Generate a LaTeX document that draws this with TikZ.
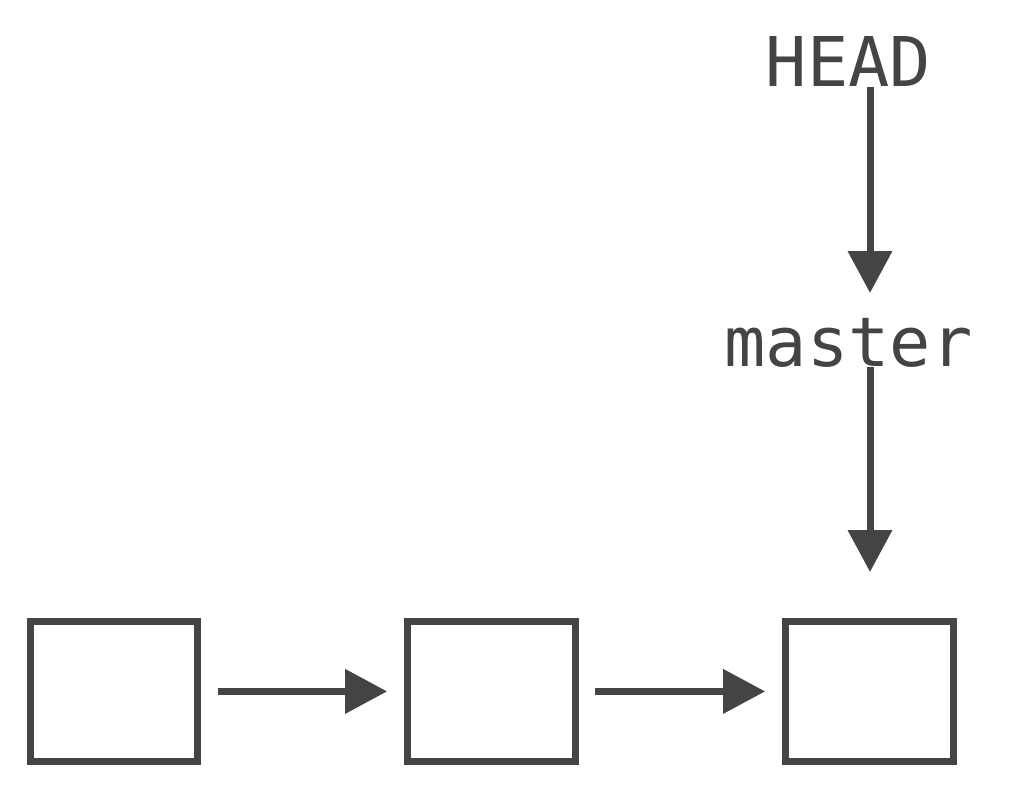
\documentclass[tikz,border=0pt]{standalone}
\usepackage{fontspec}
\setmonofont{DejaVu Sans Mono}
\usetikzlibrary{arrows.meta}
\definecolor{ink}{HTML}{444444}
\tikzset{
  commit/.style={draw=ink, line width=7pt, minimum width=167.7pt, minimum height=139.8pt, inner sep=0pt, fill=white},
  ref/.style={text=ink, anchor=base, inner sep=0pt, font=\ttfamily\fontsize{68.6pt}{80pt}\selectfont},
  link/.style={draw=ink, line width=7pt, -{Triangle[length=42pt,width=43pt]}},
}
\begin{document}
\begin{tikzpicture}[x=1pt,y=-1pt]
\useasboundingbox (0,0) rectangle (1012,797);
\node[commit] (c1) at (113.9,691.4) {};
\node[commit] (c2) at (491.5,691.4) {};
\node[commit] (c3) at (869.5,691.4) {};
\node[ref] (head) at (848.5,86.7) {HEAD};
\node[ref] (master) at (848.5,366.7) {master};
\coordinate (h0) at (870,87);
\coordinate (h1) at (870,293);
\coordinate (m0) at (870,367);
\coordinate (m1) at (870,572);
\draw[link, shorten <=16.5pt, shorten >=17pt] (c1.east) -- (c2.west);
\draw[link, shorten <=16.5pt, shorten >=17pt] (c2.east) -- (c3.west);
\draw[link] (h0) -- (h1);
\draw[link] (m0) -- (m1);
\end{tikzpicture}
\end{document}
